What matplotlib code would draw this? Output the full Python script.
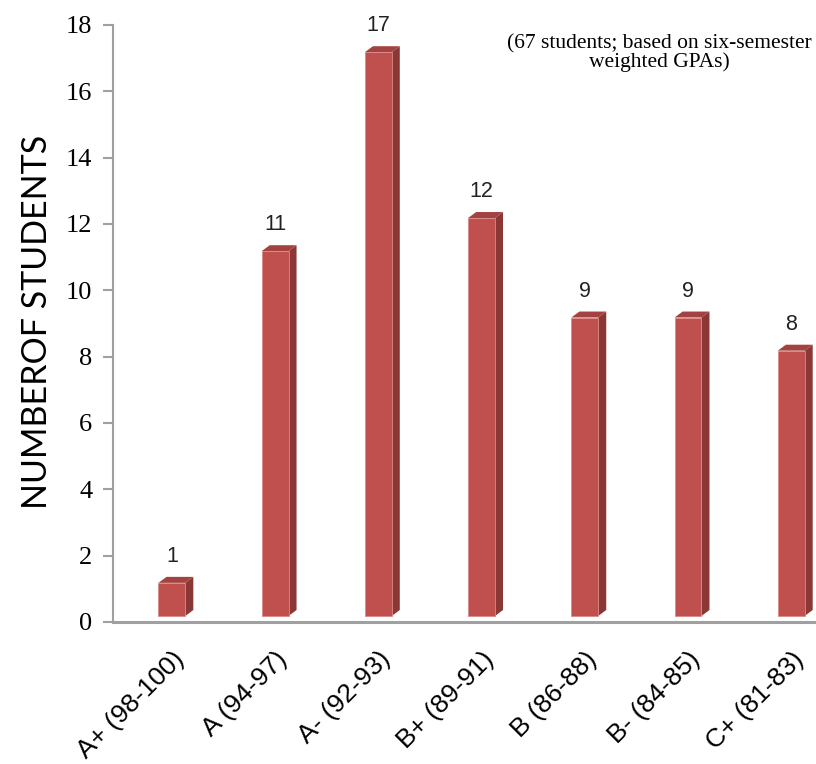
import matplotlib
matplotlib.use('Agg')
import matplotlib.pyplot as plt
from matplotlib.patches import Polygon

# grade bands and how many students fall in each
grades = ['A+ (98-100)', 'A (94-97)', 'A- (92-93)', 'B+ (89-91)',
          'B (86-88)', 'B- (84-85)', 'C+ (81-83)']
counts = [1, 11, 17, 12, 9, 9, 8]
y_ticks = list(range(0, 19, 2))
note = '(67 students; based on six-semester\nweighted GPAs)'

front_col = '#C0504D'
side_col = '#8A3735'
top_col = '#A3423F'
axis_col = '#A0A0A0'

fig = plt.figure(figsize=(8.16, 7.64), dpi=100)
ax = fig.add_axes([0.1385, 0.1859, 0.8615, 0.7814])

xs = list(range(len(grades)))
w = 0.26      # bar width (data units)
base = 0.18   # fake floor lift of the 3d look
dx, dy = 0.078, 0.18

ax.bar(xs, counts, width=w, bottom=base, color=front_col,
       edgecolor='#D98A88', linewidth=0.6, zorder=3, clip_on=False)
for x, v in zip(xs, counts):
    r = x + w / 2
    l = x - w / 2
    side = Polygon([(r, base), (r + dx, base + dy), (r + dx, base + v + dy),
                    (r, base + v)], closed=True, facecolor=side_col,
                   edgecolor='none', zorder=2, clip_on=False)
    top = Polygon([(l, base + v), (l + dx, base + v + dy), (r + dx, base + v + dy),
                   (r, base + v)], closed=True, facecolor=top_col,
                  edgecolor='none', zorder=2, clip_on=False)
    ax.add_patch(side)
    ax.add_patch(top)
    ax.text(x, base + v + dy + 0.3, str(v), ha='center', va='bottom',
            fontsize=15.5, family='Liberation Sans', color='#222222')

ax.set_xlim(-0.57, 6.24)
ax.set_ylim(0, 18)
ax.set_yticks(y_ticks)
ax.set_yticklabels([str(t) for t in y_ticks], family='Liberation Serif',
                   fontsize=19)
ax.set_xticks(xs)
ax.set_xticklabels(grades, rotation=45, ha='right', va='top',
                   rotation_mode='anchor', family='Liberation Sans',
                   fontsize=19)
ax.tick_params(axis='x', length=0, pad=18)
ax.tick_params(axis='y', length=7, width=1.5, color=axis_col, pad=8)

for s in ['top', 'right']:
    ax.spines[s].set_visible(False)
ax.spines['left'].set_color(axis_col)
ax.spines['left'].set_linewidth(1.5)
ax.spines['bottom'].set_color(axis_col)
ax.spines['bottom'].set_linewidth(2.2)

fig.text(0.045, 0.578, 'NUMBEROF STUDENTS', rotation=90, ha='center',
         va='center', family='Lato', fontsize=24.5)
ax.text(0.777, 0.953, note, transform=ax.transAxes, ha='center', va='center',
        family='Liberation Serif', fontsize=15.5, linespacing=0.95)

fig.savefig('out.png', dpi=100)
